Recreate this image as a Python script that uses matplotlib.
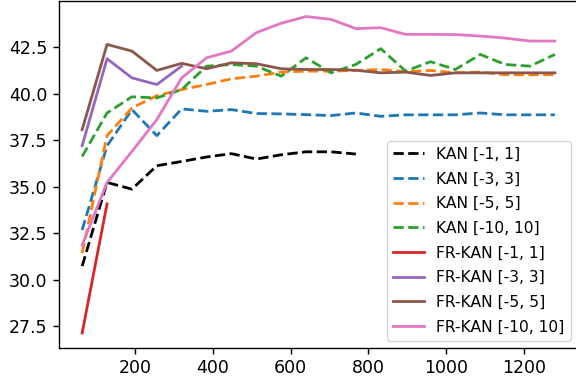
import numpy as np
import matplotlib
matplotlib.use("Agg")
import matplotlib.pyplot as plt

# eje x: pasos de 64
steps = [64 * k for k in range(1, 21)]

kan_1 = [30.73, 35.23, 34.87, 36.13, 36.36, 36.60, 36.78, 36.49, 36.72, 36.88, 36.88, 36.76]
kan_3 = [32.67, 37.20, 39.15, 37.75, 39.19, 39.06, 39.15, 38.94, 38.92, 38.88,
         38.83, 38.97, 38.79, 38.87, 38.87, 38.87, 38.97, 38.87, 38.87, 38.87]
kan_5 = [31.43, 37.75, 39.24, 39.90, 40.23, 40.50, 40.81, 40.95, 41.17, 41.22,
         41.22, 41.26, 41.31, 41.19, 41.26, 41.13, 41.17, 41.03, 41.03, 41.03]
kan_10 = [36.63, 38.97, 39.84, 39.78, 40.23, 41.49, 41.58, 41.49, 40.95, 41.94,
          41.13, 41.58, 42.43, 41.22, 41.73, 41.31, 42.12, 41.58, 41.49, 42.12]
fr_1 = [27.13, 34.08]
fr_3 = [37.21, 41.89, 40.86, 40.50, 41.49]
fr_5 = [38.07, 42.66, 42.30, 41.26, 41.64, 41.35, 41.67, 41.62, 41.35, 41.31,
        41.31, 41.27, 41.13, 41.17, 40.99, 41.13, 41.13, 41.13, 41.13, 41.13]
fr_10 = [31.86, 35.23, 36.90, 38.61, 40.86, 41.94, 42.30, 43.29, 43.80, 44.16,
         44.01, 43.51, 43.56, 43.20, 43.20, 43.19, 43.11, 43.00, 42.84, 42.84]

series = [
    ("KAN [-1, 1]", kan_1, "black", "--"),
    ("KAN [-3, 3]", kan_3, "tab:blue", "--"),
    ("KAN [-5, 5]", kan_5, "tab:orange", "--"),
    ("KAN [-10, 10]", kan_10, "tab:green", "--"),
    ("FR-KAN [-1, 1]", fr_1, "tab:red", "-"),
    ("FR-KAN [-3, 3]", fr_3, "tab:purple", "-"),
    ("FR-KAN [-5, 5]", fr_5, "tab:brown", "-"),
    ("FR-KAN [-10, 10]", fr_10, "tab:pink", "-"),
]

fig = plt.figure(figsize=(5.76, 3.81), dpi=100)
ax = fig.add_axes([0.1016, 0.0856, 0.9028, 0.9105])

for label, vals, color, ls in series:
    ax.plot(steps[:len(vals)], vals, color=color, linestyle=ls, linewidth=2.0, label=label)

ax.set_ylim(26.3, 44.97)
ax.tick_params(labelsize=12.5, length=4.5, width=1.0)
for s in ax.spines.values():
    s.set_linewidth(1.0)

ax.legend(loc="lower right", fontsize=11.2, labelspacing=0.62)

fig.savefig("out.png", dpi=100)
